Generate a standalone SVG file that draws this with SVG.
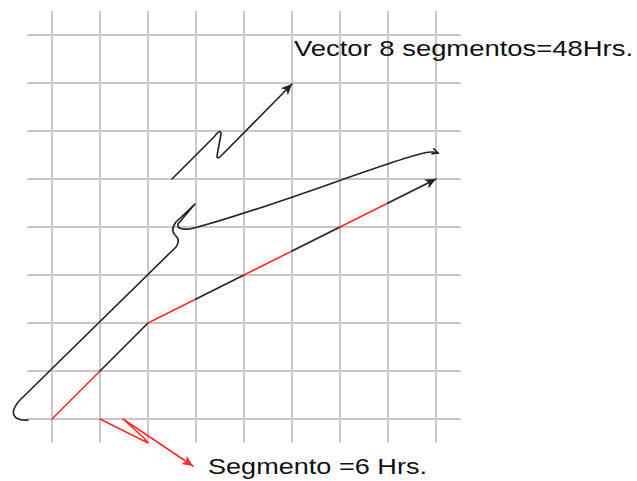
<svg xmlns="http://www.w3.org/2000/svg" width="637" height="481" viewBox="0 0 637 481">
<style>
.grid line{stroke:#c8c8c8;stroke-width:2}
.blk{stroke:#222;stroke-width:1.6;fill:none;stroke-linecap:round;stroke-linejoin:round}
.red{stroke:#ff2a2a;stroke-width:1.6;fill:none;stroke-linecap:round;stroke-linejoin:round}
.lbl{font-family:"Liberation Sans",Arial,sans-serif;font-size:22px;fill:#111}
</style>
<defs>
<marker id="ak" markerUnits="userSpaceOnUse" markerWidth="14" markerHeight="12" refX="11" refY="5" orient="auto" overflow="visible">
<path d="M0,0 L11,5 L0,10 L3,5 z" fill="#222"/>
</marker>
<marker id="ar" markerUnits="userSpaceOnUse" markerWidth="14" markerHeight="12" refX="11" refY="5" orient="auto" overflow="visible">
<path d="M0,0 L11,5 L0,10 L3,5 z" fill="#ff2a2a"/>
</marker>
<marker id="aks" markerUnits="userSpaceOnUse" markerWidth="10" markerHeight="10" refX="6" refY="3" orient="auto" overflow="visible">
<path d="M0,0 L6,3 L0,6" fill="none" stroke="#222" stroke-width="1.5"/>
</marker>
</defs>
<rect width="637" height="481" fill="#fff"/>
<g class="grid" id="grid">
<line x1="52" y1="11" x2="52" y2="443"/>
<line x1="100" y1="11" x2="100" y2="443"/>
<line x1="148" y1="11" x2="148" y2="443"/>
<line x1="196" y1="11" x2="196" y2="443"/>
<line x1="244" y1="11" x2="244" y2="443"/>
<line x1="292" y1="11" x2="292" y2="443"/>
<line x1="340" y1="11" x2="340" y2="443"/>
<line x1="388" y1="11" x2="388" y2="443"/>
<line x1="436" y1="11" x2="436" y2="443"/>
<line x1="27" y1="35" x2="461" y2="35"/>
<line x1="27" y1="83" x2="461" y2="83"/>
<line x1="27" y1="131" x2="461" y2="131"/>
<line x1="27" y1="179" x2="461" y2="179"/>
<line x1="27" y1="227" x2="461" y2="227"/>
<line x1="27" y1="275" x2="461" y2="275"/>
<line x1="27" y1="323" x2="461" y2="323"/>
<line x1="27" y1="371" x2="461" y2="371"/>
<line x1="27" y1="419" x2="461" y2="419"/>
</g>
<g id="connectors">
<g id="vector">
<line class="red" x1="52" y1="419" x2="100" y2="371"/>
<line class="blk" x1="100" y1="371" x2="148" y2="323"/>
<line class="red" x1="148" y1="323" x2="196" y2="299"/>
<line class="blk" x1="196" y1="299" x2="244" y2="275"/>
<line class="red" x1="244" y1="275" x2="292" y2="251"/>
<line class="blk" x1="292" y1="251" x2="340" y2="227"/>
<line class="red" x1="340" y1="227" x2="388" y2="203"/>
<line class="blk" x1="388" y1="203" x2="436" y2="179" marker-end="url(#ak)"/>
</g>
<path id="top-arrow" class="blk" d="M172,179 L214,137 Q221,128 221,134 L217,156 Q217,160 222,155 L292,84" marker-end="url(#ak)"/>
<path id="curve" class="blk" d="M28,420 C12,421 9,412 20,400 L176,247 Q181,240 175,235 Q170,230 176,222 L195,204 L178,224 Q176,230 190,229 C260,212 390,160 424,153 Q432,151 438,153" marker-end="url(#aks)"/>
<path id="seg-arrow" class="red" d="M100,419 L148,443 L144,438 L123,419 L193,466" marker-end="url(#ar)"/>
</g>
<g id="label-vector"><text class="lbl" x="294" y="56" textLength="339" lengthAdjust="spacingAndGlyphs">Vector 8 segmentos=48Hrs.</text></g>
<g id="label-segmento"><text class="lbl" x="208" y="474" textLength="219" lengthAdjust="spacingAndGlyphs">Segmento =6 Hrs.</text></g>
</svg>
